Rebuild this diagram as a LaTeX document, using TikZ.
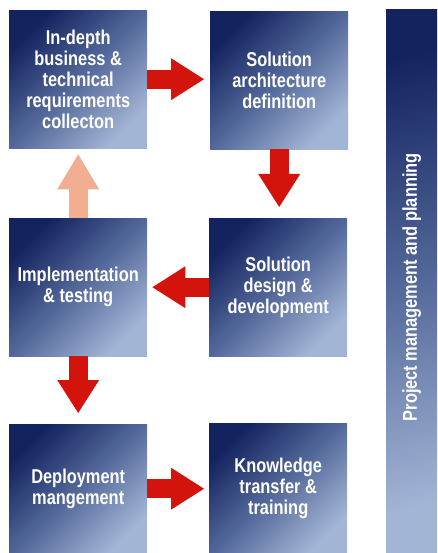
\documentclass[tikz,border=0pt]{standalone}
\usepackage{fontspec}
\setmainfont{Liberation Sans}[FakeStretch=0.82]
\usetikzlibrary{arrows.meta}
\definecolor{navyA}{HTML}{13235E}
\definecolor{navyM}{HTML}{53689A}
\definecolor{navyB}{HTML}{A2B5D5}
\definecolor{redA}{HTML}{D3140D}
\definecolor{peach}{HTML}{F2AE90}
\begin{document}
\begin{tikzpicture}[x=1pt,y=-1pt,
  box/.style={minimum width=138pt, minimum height=138pt, inner sep=0pt, anchor=north west,
    top color=navyA, bottom color=navyB, middle color=navyM, shading angle=45,
    text=white, font=\bfseries\fontsize{20}{21}\selectfont, align=center},
  flow/.style={line width=19pt, draw=redA, -{Triangle[width=42pt,length=33pt,line width=0pt,fill=redA]}},
  backflow/.style={line width=19pt, draw=peach, -{Triangle[width=42pt,length=35pt,line width=0pt,fill=peach]}},
]
\useasboundingbox (0,0) rectangle (437,553);
\node[box] (b1) at (9,10) {In-depth\\business \&\\technical\\requirements\\collecton};
\node[box] (b2) at (210,11) {Solution\\architecture\\definition};
\node[box] (b3) at (9,218) {Implementation\\\& testing};
\node[box] (b4) at (209,218) {Solution\\design \&\\development};
\node[box, minimum height=129pt] (b5) at (9,424) {Deployment\\mangement};
\node[box, minimum height=130pt] (b6) at (209,423) {Knowledge\\transfer \&\\training};
\node[box, minimum width=51pt, minimum height=544pt, shading angle=15] (bar) at (386,9)
  {\rotatebox{90}{Project management and planning\hspace{12pt}}};
\draw[flow, shorten >=6pt] (b1.east) -- (b1.east -| b2.west);
\draw[flow, shorten >=11pt] (b2.south) -- (b2.south |- b4.north);
\draw[flow, shorten >=5pt] (b4.west) -- (b4.west -| b3.east);
\draw[flow, shorten >=11pt] (b3.south) -- (b3.south |- b5.north);
\draw[backflow, shorten >=6pt] (b3.north) -- (b3.north |- b1.south);
\draw[flow, shorten >=5pt] (b5.east) -- (b5.east -| b6.west);
\end{tikzpicture}
\end{document}
